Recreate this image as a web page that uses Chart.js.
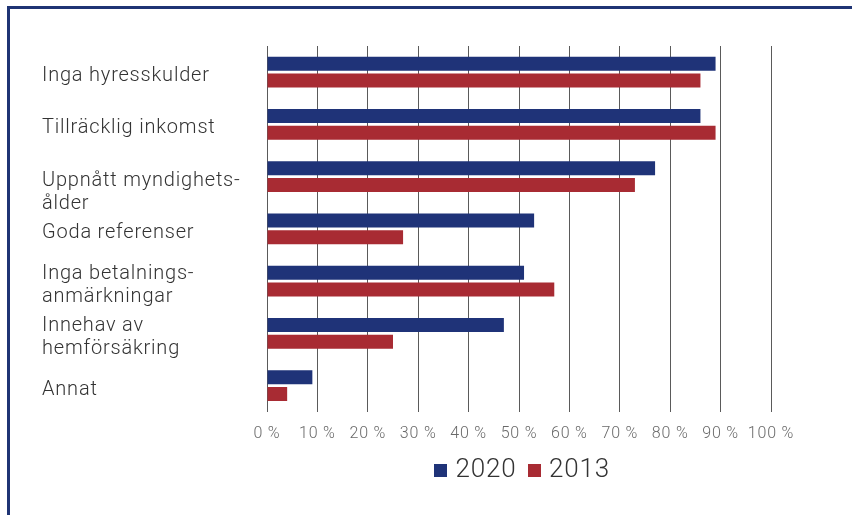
<!DOCTYPE html>
<html>
<head>
<meta charset="utf-8">
<script src="https://cdn.jsdelivr.net/npm/chart.js@4"></script>
<style>
  html, body { margin: 0; padding: 0; background: #ffffff; }
  body { width: 852px; height: 515px; overflow: hidden; position: relative; }
  #frame { position: absolute; left: 7px; top: 6px; width: 900px; height: 600px;
           border-left: 3px solid #1f3474; border-top: 3px solid #1f3474; box-sizing: border-box; }
  #c { position: absolute; left: 0; top: 0; }
</style>
</head>
<body>
<div id="frame"></div>
<canvas id="c" width="852" height="515"></canvas>
<script>
const categories = [
  'Inga hyresskulder',
  'Tillräcklig inkomst',
  ['Uppnått myndighets-', 'ålder'],
  'Goda referenser',
  ['Inga betalnings-', 'anmärkningar'],
  ['Innehav av', 'hemförsäkring'],
  'Annat'
];
const seriesNames = ['2020', '2013'];
const values2020 = [89, 86, 77, 53, 51, 47, 9];
const values2013 = [86, 89, 73, 27, 57, 25, 4];
const xTicks = [0, 10, 20, 30, 40, 50, 60, 70, 80, 90, 100];

const FONT = 'Roboto, "Liberation Sans", "DejaVu Sans", sans-serif';
Chart.defaults.font.family = FONT;
Chart.defaults.font.weight = 300;

// slight letter spacing to approximate the wider original typeface
const spacingPlugin = {
  id: 'spacing',
  beforeDraw(chart) { try { chart.ctx.letterSpacing = '0.8px'; } catch (e) {} }
};

// legend drawn with the tighter box/text spacing of the original
const legendPlugin = {
  id: 'customLegend',
  afterDraw(chart) {
    const ctx = chart.ctx;
    const ca = chart.chartArea;
    ctx.save();
    ctx.font = '300 26px ' + FONT;
    ctx.textBaseline = 'alphabetic';
    ctx.textAlign = 'left';
    const box = 13, gapText = 8.5, gapItem = 11;
    const items = chart.data.datasets.map(ds => ({
      label: ds.label, color: ds.backgroundColor, w: ctx.measureText(ds.label).width
    }));
    const total = items.reduce((s, it) => s + box + gapText + it.w, 0) + gapItem * (items.length - 1);
    let x = (ca.left + ca.right) / 2 + 3 - total / 2;
    const baseY = chart.height - 38;
    items.forEach(it => {
      ctx.fillStyle = it.color;
      ctx.fillRect(Math.round(x), baseY - box, box, box);
      x += box + gapText;
      ctx.fillStyle = '#333333';
      ctx.fillText(it.label, x, baseY);
      x += it.w + gapItem;
    });
    ctx.restore();
  }
};

new Chart(document.getElementById('c'), {
  type: 'bar',
  data: {
    labels: categories,
    datasets: [
      { label: seriesNames[0], data: values2020, backgroundColor: '#1f3378', borderWidth: 0,
        categoryPercentage: 0.64, barPercentage: 0.84 },
      { label: seriesNames[1], data: values2013, backgroundColor: '#a82b33', borderWidth: 0,
        categoryPercentage: 0.64, barPercentage: 0.84 }
    ]
  },
  plugins: [spacingPlugin, legendPlugin],
  options: {
    indexAxis: 'y',
    responsive: false,
    animation: false,
    layout: { padding: { left: 42, right: 81, top: 46, bottom: 58 } },
    plugins: {
      tooltip: { enabled: false },
      legend: { display: false }
    },
    scales: {
      x: {
        min: 0, max: 100,
        afterBuildTicks: (scale) => { scale.ticks = xTicks.map(v => ({ value: v })); },
        grid: { color: '#5a5a5a', lineWidth: 1, drawTicks: false },
        border: { display: false },
        ticks: {
          padding: 13,
          color: '#6a6a6a',
          font: { size: 16, weight: 300, family: FONT },
          callback: (v) => v + ' %',
          maxRotation: 0,
          autoSkip: false
        }
      },
      y: {
        grid: { display: false, drawTicks: false },
        border: { display: false },
        afterFit: (scale) => { scale.width = 225; },
        ticks: {
          autoSkip: false,
          crossAlign: 'far',
          padding: 0,
          labelOffset: 4,
          color: '#333333',
          font: { size: 20, weight: 300, family: FONT, lineHeight: 1.15 },
          callback: function (value, index) {
            const lbl = this.getLabelForValue(value);
            // the original sets this two-line label a little lower than its bars
            if (index === 2 && Array.isArray(lbl)) return [''].concat(lbl);
            return lbl;
          }
        }
      }
    }
  }
});
</script>
</body>
</html>
